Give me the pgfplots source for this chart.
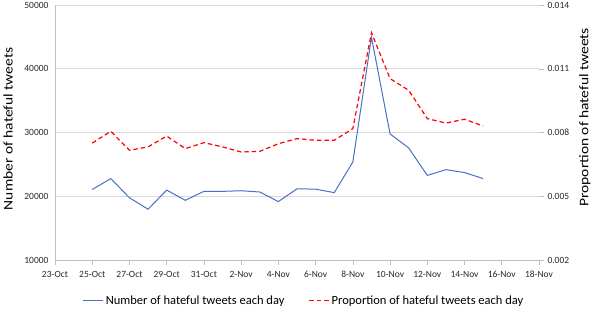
\documentclass[border=0pt]{standalone}
\usepackage{fontspec}
\setmainfont{Carlito}
\usepackage{pgfplots}
\pgfplotsset{compat=1.18}
\definecolor{exblue}{RGB}{68,114,196}
\definecolor{gridgray}{RGB}{217,217,217}
\definecolor{axgray}{RGB}{191,191,191}
\definecolor{txt}{RGB}{40,40,40}
\pgfplotstableread{
day count
2 21100
3 22800
4 19800
5 18000
6 21000
7 19400
8 20800
9 20800
10 20900
11 20700
12 19200
13 21200
14 21150
15 20600
16 25400
17 44950
18 29800
19 27600
20 23300
21 24200
22 23750
23 22800
}\counttable
\pgfplotstableread{
day prop
2 0.00751
3 0.00806
4 0.00717
5 0.00733
6 0.00784
7 0.00725
8 0.00753
9 0.00733
10 0.00709
11 0.00712
12 0.00748
13 0.00772
14 0.00764
15 0.00764
16 0.00819
17 0.0127
18 0.01054
19 0.00999
20 0.00866
21 0.00845
22 0.00863
23 0.00831
}\proptable
\begin{document}
\begin{tikzpicture}
\pgfplotsset{
  common/.style={
    scale only axis, width=484pt, height=255.3pt,
    xmin=0, xmax=26,
    /pgf/number format/assume math mode=true,
    tick label style={font=\fontsize{9.5}{10}\selectfont, text=txt, inner ysep=0.5pt},
  }
}
\begin{axis}[common,
  ymin=10000, ymax=50000,
  axis x line*=bottom, axis y line*=left,
  axis line style={axgray, line width=0.6pt},
  xtick={0,2,...,26},
  xticklabels={23-Oct,25-Oct,27-Oct,29-Oct,31-Oct,2-Nov,4-Nov,6-Nov,8-Nov,10-Nov,12-Nov,14-Nov,16-Nov,18-Nov},
  x tick style={axgray, line width=0.6pt},
  xtick align=outside, major tick length=5pt,
  ytick={10000,20000,30000,40000,50000},
  yticklabels={10000,20000,30000,40000,50000},
  y tick style={draw=none},
  ymajorgrids, grid style={gridgray, line width=0.7pt},
  xticklabel style={yshift=-5pt},
  yticklabel style={xshift=-3pt},
  every axis y label/.style={at={(axis description cs:-0.097,0.515)}, rotate=90, anchor=center,
    font=\fontsize{15.5}{16}\selectfont, yscale=0.85},
  ylabel={Number of hateful tweets},
]
\addplot[exblue, line width=1pt] table[x=day, y=count] {\counttable};
\end{axis}
\begin{axis}[common,
  ymin=0.002, ymax=0.014,
  axis x line=none, axis y line*=right,
  axis line style={draw=none},
  ytick={0.002,0.005,0.008,0.011,0.014},
  yticklabels={0.002,0.005,0.008,0.011,0.014},
  y tick style={axgray, line width=0.6pt},
  ytick align=outside, major tick length=5pt,
  every axis y label/.style={at={(axis description cs:1.095,0.56)}, rotate=90, anchor=center,
    font=\fontsize{15.5}{16}\selectfont, yscale=0.85},
  ylabel={Proportion of hateful tweets},
  legend columns=2,
  legend style={draw=none, fill=none, at={(axis description cs:0.057,-0.158)}, anchor=west,
    font=\fontsize{12.5}{14}\selectfont, inner sep=0pt,
    /tikz/every even column/.append style={column sep=22pt}},
  legend image code/.code={\draw[#1] (0pt,0pt) -- (20pt,0pt);},
]
\addlegendimage{exblue, line width=1pt}
\addlegendentry{Number of hateful tweets each day}
\addplot[red, line width=1.2pt, dash pattern=on 4.5pt off 3pt] table[x=day, y=prop] {\proptable};
\addlegendentry{Proportion of hateful tweets each day}
\end{axis}
\pgfresetboundingbox
\path (-55pt,-50pt) rectangle (537pt,260.3pt);
\end{tikzpicture}
\end{document}
